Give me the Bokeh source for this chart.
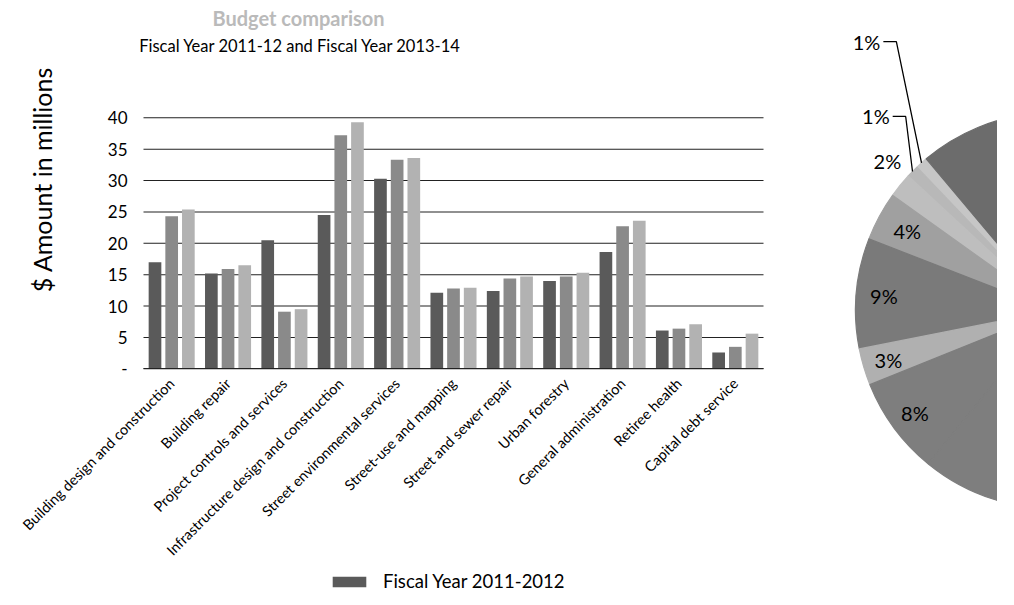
import math
from bokeh.plotting import figure
from bokeh.models import (Range1d, Legend, LegendItem, Label, ColumnDataSource, FixedTicker)
from bokeh.transform import dodge
from bokeh.embed import file_html
from bokeh.resources import INLINE
from bokeh.core.properties import value

# ---------------- data ----------------
categories = [
    "Building design and construction",
    "Building repair",
    "Project controls and services",
    "Infrastructure design and construction",
    "Street environmental services",
    "Street-use and mapping",
    "Street and sewer repair",
    "Urban forestry",
    "General administration",
    "Retiree health",
    "Capital debt service",
]
series_names = ["Fiscal Year 2011-2012", "Fiscal Year 2012-2013", "Fiscal Year 2013-2014"]
fy_2011_12 = [17.0, 15.2, 20.5, 24.5, 30.3, 12.1, 12.4, 14.0, 18.6, 6.1, 2.6]
fy_2012_13 = [24.3, 15.9, 9.1, 37.2, 33.3, 12.8, 14.4, 14.7, 22.7, 6.4, 3.5]
fy_2013_14 = [25.4, 16.5, 9.5, 39.3, 33.6, 12.9, 14.7, 15.3, 23.6, 7.1, 5.6]
y_ticks = [0, 5, 10, 15, 20, 25, 30, 35, 40]
y_tick_labels = ["-", "5", "10", "15", "20", "25", "30", "35", "40"]

title_text = "Budget comparison"
subtitle_text = "Fiscal Year 2011-12 and Fiscal Year 2013-14"
y_label_text = "$ Amount in millions"

# pie shares (percent), counter-clockwise from the visible apex
pie_values = [1, 1, 2, 4, 9, 3, 8, 25, 27, 20]
pie_labels = ["1%", "1%", "2%", "4%", "9%", "3%", "8%", "", "", ""]

# ---------------- styles / layout ----------------
FONT = "Lato"
bar_colors = ["#5a5a5a", "#8a8a8a", "#b2b2b2"]
pie_colors = ["#c6c6c6", "#b8b8b8", "#bebebe", "#a0a0a0", "#7a7a7a",
              "#b0b0b0", "#7e7e7e", "#7e7e7e", "#747474", "#6c6c6c"]
pie_start_deg = 130.0
pie_radius = 198
pie_label_rf = [1.573, 1.232, 1.127, 0.84, 0.86, 0.87, 0.87, 0, 0, 0]
pie_label_off = [-11.5, -8.1, -2.7, 0, 0, 0, 0, 0, 0, 0]
pie_leader = [True, True, False, False, False, False, False, False, False, False]

W, H = 997, 605
PLOT_LEFT, PLOT_RIGHT = 143, 763      # canvas px of the bar plot area
ZERO_Y, TOP_Y = 368.3, 117.3          # canvas px of 0 and 40
n = len(categories)
px_cat = (PLOT_RIGHT - PLOT_LEFT) / n
px_amt = (ZERO_Y - TOP_Y) / 40.0
x_start = -0.5 - PLOT_LEFT / px_cat
x_end = -0.5 + (W - PLOT_LEFT) / px_cat
y_start = -(H - ZERO_Y) / px_amt
y_end = ZERO_Y / px_amt

def dx(cx):
    return -0.5 + (cx - PLOT_LEFT) / px_cat

def dy(cy):
    return (ZERO_Y - cy) / px_amt

p = figure(width=W, height=H, x_range=Range1d(x_start, x_end),
           y_range=Range1d(y_start, y_end), output_backend="svg",
           toolbar_location=None, min_border=0)
p.outline_line_color = None
p.background_fill_color = "white"
p.border_fill_color = "white"
p.grid.visible = False

idx = list(range(n))
src = ColumnDataSource(dict(i=idx, a=fy_2011_12, b=fy_2012_13, c=fy_2013_14))

# grid lines across the bar area
p.segment(x0=[-0.5] * len(y_ticks), x1=[n - 0.5] * len(y_ticks), y0=y_ticks, y1=y_ticks,
          line_color="#222222", line_width=1.1)

offs = [-0.296, 0.0, 0.296]
rends = []
for col, off, colr in zip(["a", "b", "c"], offs, bar_colors):
    r = p.vbar(x=dodge("i", off), top=col, width=0.225, source=src,
               fill_color=colr, line_color=None)
    rends.append(r)

# y axis drawn at the left edge of the bar area
p.yaxis.fixed_location = -0.5
p.yaxis.bounds = (0, 40)
p.yaxis.ticker = FixedTicker(ticks=y_ticks)
p.yaxis.major_label_overrides = {t: s for t, s in zip(y_ticks, y_tick_labels)}
p.yaxis.axis_line_color = None
p.yaxis.major_tick_line_color = None
p.yaxis.minor_tick_line_color = None
p.yaxis.major_label_text_font = FONT
p.yaxis.major_label_text_font_size = "17px"
p.yaxis.major_label_text_color = "black"
p.yaxis.major_label_standoff = 10

# x axis drawn at y = 0
p.xaxis.fixed_location = 0
p.xaxis.bounds = (-0.5, n - 0.5)
p.xaxis.ticker = FixedTicker(ticks=idx)
p.xaxis.major_label_overrides = {i: c for i, c in zip(idx, categories)}
p.xaxis.axis_line_color = "#222222"
p.xaxis.major_tick_line_color = None
p.xaxis.minor_tick_line_color = None
p.xaxis.major_label_orientation = math.pi / 4
p.xaxis.major_label_text_font = FONT
p.xaxis.major_label_text_font_size = "14.5px"
p.xaxis.major_label_text_color = "black"
p.xaxis.major_label_standoff = 6

p.add_layout(Label(x=dx(298), y=dy(17), text=title_text, text_align="center",
                   text_baseline="middle", text_font=FONT, text_font_style="bold",
                   text_font_size="20px", text_color="#bababa"))
p.add_layout(Label(x=dx(300), y=dy(45), text=subtitle_text, text_align="center",
                   text_baseline="middle", text_font=FONT, text_font_size="16.5px",
                   text_color="black"))
p.add_layout(Label(x=dx(41), y=dy(179), text=y_label_text, angle=math.pi / 2,
                   text_align="center", text_baseline="middle", text_font=FONT,
                   text_font_size="25px", text_color="black"))

legend = Legend(items=[LegendItem(label=series_names[0], renderers=[rends[0]])],
                location=(328, 13), orientation="horizontal",
                glyph_width=42, glyph_height=13, label_text_font=FONT,
                label_text_font_size="18.5px", label_text_color="black",
                border_line_color=None, background_fill_alpha=0,
                padding=0, margin=0, label_standoff=13)
p.add_layout(legend)

# ---------------- pie (cropped at right edge) ----------------
cx_canvas, cy_canvas = 1053, 310
p.extra_x_ranges = {"px": Range1d(-cx_canvas, W - cx_canvas)}
p.extra_y_ranges = {"py": Range1d(cy_canvas - H, cy_canvas)}

total = float(sum(pie_values))
starts, ends, mids = [], [], []
acc = 0.0
for v in pie_values:
    s = math.radians(pie_start_deg) + 2 * math.pi * acc / total
    acc += v
    e = math.radians(pie_start_deg) + 2 * math.pi * acc / total
    starts.append(s); ends.append(e); mids.append((s + e) / 2)

psrc = ColumnDataSource(dict(start=starts, end=ends, color=pie_colors))
p.wedge(x=0, y=0, radius=pie_radius, start_angle="start", end_angle="end",
        fill_color="color", line_color="color", line_width=1.2, source=psrc,
        direction="anticlock", x_range_name="px", y_range_name="py")

lx, ly, ltxt, lalign = [], [], [], []
for i, lab in enumerate(pie_labels):
    if not lab:
        continue
    ang = mids[i] + math.radians(pie_label_off[i])
    rr = pie_radius * pie_label_rf[i]
    ex, ey = rr * math.cos(ang), rr * math.sin(ang)
    if pie_leader[i]:
        sx, sy = pie_radius * math.cos(mids[i]), pie_radius * math.sin(mids[i])
        p.line(x=[sx, ex, ex - 13], y=[sy, ey, ey], line_color="black", line_width=1.3,
               x_range_name="px", y_range_name="py")
        lx.append(ex - 16); ly.append(ey); ltxt.append(lab); lalign.append("right")
    else:
        lx.append(ex); ly.append(ey); ltxt.append(lab); lalign.append("center")

lsrc = ColumnDataSource(dict(x=lx, y=ly, t=ltxt, a=lalign))
p.text(x="x", y="y", text="t", text_align="a", text_baseline="middle",
       text_font=value(FONT), text_font_size="20px", text_color="black", source=lsrc,
       x_range_name="px", y_range_name="py")

open("out.html", "w").write(file_html(p, INLINE))
